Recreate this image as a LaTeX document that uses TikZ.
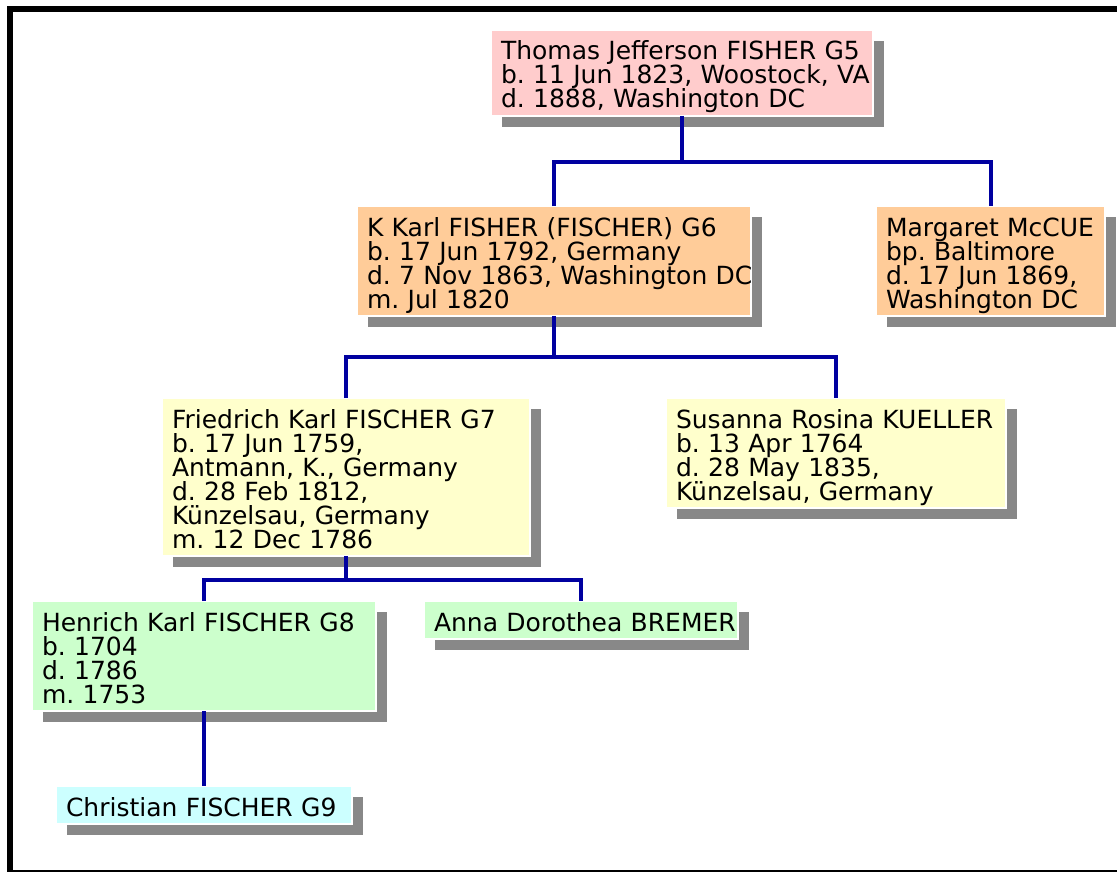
\documentclass[tikz,border=0pt]{standalone}
\usepackage{fontspec}
\setmainfont{DejaVu Sans}
\usetikzlibrary{shadows}

\definecolor{pinkbox}{HTML}{FFCCCC}
\definecolor{peachbox}{HTML}{FFCC99}
\definecolor{yellowbox}{HTML}{FFFFCC}
\definecolor{greenbox}{HTML}{CCFFCC}
\definecolor{cyanbox}{HTML}{CCFFFF}
\definecolor{shadowgray}{HTML}{888888}
\definecolor{linkblue}{HTML}{0000A0}

% lines of a person box, never broken, 24pt apart
\newcommand{\personlines}[1]{\vbox{\baselineskip=24pt\lineskiplimit=-\maxdimen\let\\\cr
	\halign{##\hfil\cr\rule{0pt}{29pt}#1\crcr}\vskip-\prevdepth\vskip7pt}}

\begin{document}
\begin{tikzpicture}[x=1pt,y=-1pt,
	person/.style={anchor=north west, draw=white, line width=2pt, outer sep=0pt,
		inner xsep=10pt, inner ysep=0pt, align=left,
		font=\fontsize{25}{24}\selectfont\frenchspacing,
		drop shadow={shadow xshift=11pt, shadow yshift=-11pt, fill=shadowgray, opacity=1}},
	link/.style={draw=linkblue, line width=4pt}]
	\useasboundingbox (0,0) rectangle (1117,872);

	\node[person, fill=pinkbox, text width=362pt, minimum height=86pt] (t5) at (491,30) {\personlines{Thomas Jefferson FISHER G5\\b. 11 Jun 1823, Woostock, VA\\d. 1888, Washington DC}};
	\node[person, fill=peachbox, text width=374pt, minimum height=110pt] (k6) at (357,206) {\personlines{K Karl FISHER (FISCHER) G6\\b. 17 Jun 1792, Germany\\d. 7 Nov 1863, Washington DC\\m. Jul 1820}};
	\node[person, fill=peachbox, text width=209pt, minimum height=110pt] (m6) at (876,206) {\personlines{Margaret McCUE\\bp. Baltimore\\d. 17 Jun 1869,\\Washington DC}};
	\node[person, fill=yellowbox, text width=348pt, minimum height=158pt] (f7) at (162,398) {\personlines{Friedrich Karl FISCHER G7\\b. 17 Jun 1759,\\Antmann, K., Germany\\d. 28 Feb 1812,\\Künzelsau, Germany\\m. 12 Dec 1786}};
	\node[person, fill=yellowbox, text width=320pt, minimum height=110pt] (s7) at (666,398) {\personlines{Susanna Rosina KUELLER\\b. 13 Apr 1764\\d. 28 May 1835,\\Künzelsau, Germany}};
	\node[person, fill=greenbox, text width=324pt, minimum height=110pt] (h8) at (32,601) {\personlines{Henrich Karl FISCHER G8\\b. 1704\\d. 1786\\m. 1753}};
	\node[person, fill=greenbox, text width=294pt, minimum height=38pt] (a8) at (424,601) {\personlines{Anna Dorothea BREMER}};
	\node[person, fill=cyanbox, text width=276pt, minimum height=38pt] (c9) at (56,786) {\personlines{Christian FISCHER G9}};

	% family lines
	\draw[link] (t5.south) -- ++(0,46) coordinate (tj);
	\draw[link] (k6.north) |- (tj) -| (m6.north);
	\draw[link] (k6.south) -- ++(0,41) coordinate (kj);
	\draw[link] (f7.north) |- (kj) -| (s7.north);
	\draw[link] (f7.south) -- ++(0,24) coordinate (fj);
	\draw[link] (h8.north) |- (fj) -| (a8.north);
	\path[link] (h8) edge (c9);

	% frame
	\draw[line width=6pt] (10,9.5) rectangle (1135,872.5);
\end{tikzpicture}
\end{document}
